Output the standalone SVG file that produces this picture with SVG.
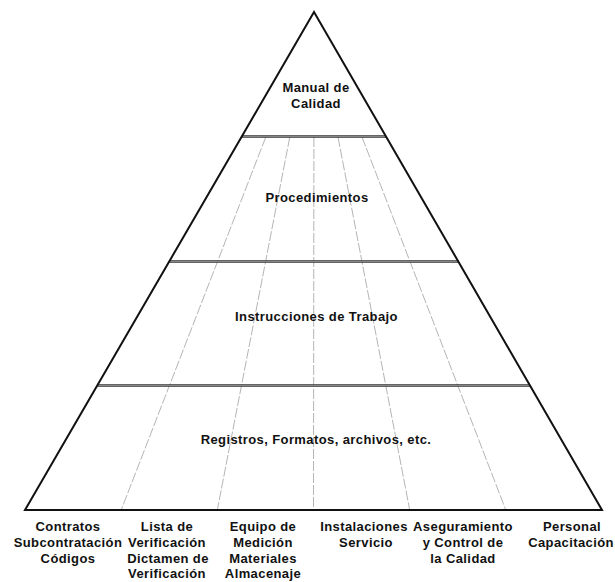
<svg xmlns="http://www.w3.org/2000/svg" width="615" height="582" viewBox="0 0 615 582">
  <style>
    .lbl { font-family: "Liberation Sans", Arial, sans-serif; font-weight: bold; font-size: 13px; letter-spacing: 0.4px; fill: #111; text-anchor: middle; }
    .outline { fill: none; stroke: #111; stroke-width: 2; stroke-linejoin: miter; }
    .tier { stroke: #333; stroke-width: 2.6; }
    .tier-core { stroke: #9a9a9a; stroke-width: 0.8; }
    .ray { stroke: #ababab; stroke-width: 0.9; stroke-dasharray: 10 2; fill: none; }
  </style>

  <rect width="615" height="582" fill="#ffffff"/>

  <!-- column rays from the top tier down to the base -->
  <g id="connectors">
    <line class="ray" x1="265.8" y1="137" x2="121.2" y2="510"/>
    <line class="ray" x1="289.8" y1="137" x2="217.3" y2="510"/>
    <line class="ray" x1="313.9" y1="137" x2="313.5" y2="510"/>
    <line class="ray" x1="338.0" y1="137" x2="409.7" y2="510"/>
    <line class="ray" x1="362.0" y1="137" x2="505.8" y2="510"/>
  </g>

  <!-- tier dividers -->
  <g id="dividers">
    <line class="tier" x1="242" y1="136.5" x2="386" y2="136.5"/>
    <line class="tier-core" x1="242" y1="136.5" x2="386" y2="136.5"/>
    <line class="tier" x1="169.5" y1="261.5" x2="458.5" y2="261.5"/>
    <line class="tier-core" x1="169.5" y1="261.5" x2="458.5" y2="261.5"/>
    <line class="tier" x1="97.5" y1="385.5" x2="530" y2="385.5"/>
    <line class="tier-core" x1="97.5" y1="385.5" x2="530" y2="385.5"/>
  </g>

  <!-- pyramid outline -->
  <polygon id="pyramid" class="outline" points="314,12 602,510 25,510"/>

  <g id="manual">
    <text class="lbl" x="316" y="92">Manual de</text>
    <text class="lbl" x="316" y="108">Calidad</text>
  </g>
  <g id="procedimientos">
    <text class="lbl" x="317" y="202">Procedimientos</text>
  </g>
  <g id="instrucciones">
    <text class="lbl" x="316.5" y="321">Instrucciones de Trabajo</text>
  </g>
  <g id="registros">
    <text class="lbl" x="316" y="444">Registros, Formatos, archivos, etc.</text>
  </g>

  <!-- base column labels -->
  <g id="col-contratos">
    <text class="lbl" x="68" y="530.5">Contratos</text>
    <text class="lbl" x="68" y="546.5">Subcontratación</text>
    <text class="lbl" x="68" y="562.5">Códigos</text>
  </g>
  <g id="col-lista">
    <text class="lbl" x="167" y="530.5">Lista de</text>
    <text class="lbl" x="167" y="546.5">Verificación</text>
    <text class="lbl" x="168" y="562.5">Dictamen de</text>
    <text class="lbl" x="167" y="578">Verificación</text>
  </g>
  <g id="col-equipo">
    <text class="lbl" x="263" y="530.5">Equipo de</text>
    <text class="lbl" x="263" y="546.5">Medición</text>
    <text class="lbl" x="263" y="562.5">Materiales</text>
    <text class="lbl" x="263" y="578">Almacenaje</text>
  </g>
  <g id="col-instalaciones">
    <text class="lbl" x="364" y="530.5">Instalaciones</text>
    <text class="lbl" x="366" y="546.5">Servicio</text>
  </g>
  <g id="col-aseguramiento">
    <text class="lbl" x="463" y="530.5">Aseguramiento</text>
    <text class="lbl" x="463" y="546.5">y Control de</text>
    <text class="lbl" x="463" y="562.5">la Calidad</text>
  </g>
  <g id="col-personal">
    <text class="lbl" x="572" y="530.5">Personal</text>
    <text class="lbl" x="571" y="546.5">Capacitación</text>
  </g>
</svg>
